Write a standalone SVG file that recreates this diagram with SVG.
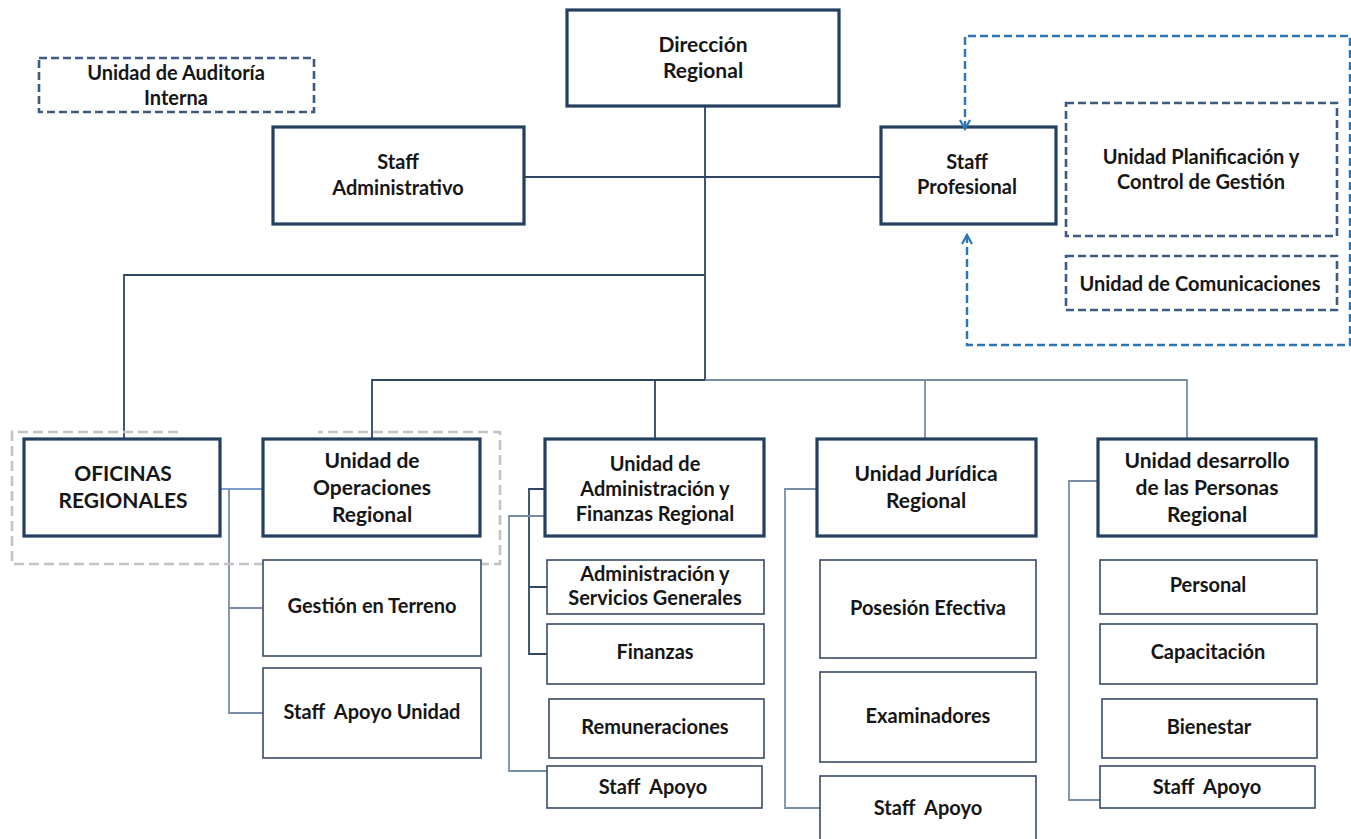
<svg xmlns="http://www.w3.org/2000/svg" width="1351" height="839" viewBox="0 0 1351 839">
<defs>
<style>
text{font-family:Lato,"Liberation Sans",sans-serif;font-weight:bold;fill:#161616;text-anchor:middle;font-size:20px}
.big{font-size:21px}
.thick{fill:#fff;stroke:#243F60;stroke-width:3.2}
.thin{fill:#fff;stroke:#3A4B66;stroke-width:1.6}
.dash{fill:#fff;stroke:#3D5B82;stroke-width:2.6;stroke-dasharray:8 4}
.c{fill:none;stroke:#2E4563;stroke-width:1.8}
.cl{fill:none;stroke:#7A8DA8;stroke-width:1.8}
.cb{fill:none;stroke:#4F81BD;stroke-width:1.6}
.blue{fill:none;stroke:#2E75B6;stroke-width:2.4;stroke-dasharray:8 4}
.gray{fill:none;stroke:#C4C4C4;stroke-width:2.6;stroke-dasharray:10 5}
</style>
<marker id="ar" viewBox="0 0 12 12" refX="10" refY="6" markerWidth="12" markerHeight="12" markerUnits="userSpaceOnUse" orient="auto-start-reverse">
<path d="M1,1 L10,6 L1,11" fill="none" stroke="#2E75B6" stroke-width="2.2"/>
</marker>
</defs>
<rect width="1351" height="839" fill="#fff"/>

<g id="connectors">
<path class="c" d="M705,106 V380"/>
<path class="c" d="M524,177 H881"/>
<path class="c" d="M705,275 H124 V438"/>
<path class="c" d="M372,438 V380 H705"/>
<path class="cl" d="M705,380 H1187 V438"/>
<path class="c" d="M655,380 V438"/>
<path class="cl" d="M925,380 V438"/>
<path class="cb" d="M220,489 H263"/>
<path class="cl" d="M229,489 V713 H263 M229,608 H263"/>
<path class="c" d="M545,489 H529 V654 H547 M529,587 H547"/>
<path class="cl" d="M545,516 H509 V771 H547"/>
<path class="cl" d="M817,489 H785 V808 H822"/>
<path class="cl" d="M1098,481 H1069 V800 H1102"/>
</g>

<g id="grupo-oficinas"><path class="gray" d="M178,432 H12 V564 H500 V432 H318"/></g>

<g id="direccion"><rect class="thick" x="567" y="10" width="272" height="96"/><text class="big" x="703" y="52">Dirección</text><text class="big" x="703" y="78">Regional</text></g>
<g id="auditoria"><rect class="dash" x="39" y="58" width="275" height="54" fill="none"/><text x="176" y="80">Unidad de Auditoría</text><text x="176" y="105">Interna</text></g>
<g id="staff-admin"><rect class="thick" x="273" y="127" width="251" height="97"/><text x="398" y="169">Staff</text><text x="398" y="195">Administrativo</text></g>
<g id="staff-prof"><rect class="thick" x="881" y="127" width="175" height="97"/><text x="967" y="169">Staff</text><text x="967" y="194">Profesional</text></g>
<g id="planificacion"><rect class="dash" x="1066" y="103" width="271" height="133"/><text x="1201" y="164">Unidad Planificación y</text><text x="1201" y="189">Control de Gestión</text></g>
<g id="comunicaciones"><rect class="dash" x="1066" y="256" width="271" height="54"/><text x="1200" y="291">Unidad de Comunicaciones</text></g>

<g id="oficinas"><rect class="thick" x="24" y="439" width="196" height="97"/><text class="big" x="123" y="481">OFICINAS</text><text class="big" x="123" y="508">REGIONALES</text></g>
<g id="operaciones"><rect class="thick" x="263" y="439" width="217" height="97"/><text class="big" x="372" y="468">Unidad de</text><text class="big" x="372" y="495">Operaciones</text><text class="big" x="372" y="522">Regional</text></g>
<g id="gestion"><rect class="thin" x="263" y="560" width="218" height="96"/><text x="372" y="613">Gestión en Terreno</text></g>
<g id="staff-apoyo-unidad"><rect class="thin" x="263" y="668" width="218" height="90"/><text x="372" y="719" xml:space="preserve">Staff  Apoyo Unidad</text></g>

<g id="administracion"><rect class="thick" x="545" y="439" width="219" height="97"/><text x="655" y="471">Unidad de</text><text x="655" y="496">Administración y</text><text x="655" y="521">Finanzas Regional</text></g>
<g id="servicios"><rect class="thin" x="547" y="560" width="217" height="54"/><text x="655" y="581">Administración y</text><text x="655" y="605">Servicios Generales</text></g>
<g id="finanzas"><rect class="thin" x="547" y="624" width="217" height="60"/><text x="655" y="659">Finanzas</text></g>
<g id="remuneraciones"><rect class="thin" x="549" y="699" width="215" height="59"/><text x="655" y="734">Remuneraciones</text></g>
<g id="staff-apoyo-adm"><rect class="thin" x="547" y="766" width="215" height="42"/><text x="653" y="794" xml:space="preserve">Staff  Apoyo</text></g>

<g id="juridica"><rect class="thick" x="817" y="439" width="219" height="97"/><text class="big" x="926" y="481">Unidad Jurídica</text><text class="big" x="926" y="508">Regional</text></g>
<g id="posesion"><rect class="thin" x="820" y="560" width="216" height="98"/><text x="928" y="615">Posesión Efectiva</text></g>
<g id="examinadores"><rect class="thin" x="820" y="672" width="216" height="90"/><text x="928" y="723">Examinadores</text></g>
<g id="staff-apoyo-jur"><rect class="thin" x="820" y="776" width="216" height="70"/><text x="928" y="815" xml:space="preserve">Staff  Apoyo</text></g>

<g id="desarrollo"><rect class="thick" x="1098" y="439" width="218" height="97"/><text class="big" x="1207" y="468">Unidad desarrollo</text><text class="big" x="1207" y="495">de las Personas</text><text class="big" x="1207" y="522">Regional</text></g>
<g id="personal"><rect class="thin" x="1100" y="560" width="217" height="54"/><text x="1208" y="592">Personal</text></g>
<g id="capacitacion"><rect class="thin" x="1100" y="624" width="217" height="60"/><text x="1208" y="659">Capacitación</text></g>
<g id="bienestar"><rect class="thin" x="1102" y="699" width="215" height="59"/><text x="1209" y="734">Bienestar</text></g>
<g id="staff-apoyo-des"><rect class="thin" x="1100" y="766" width="215" height="42"/><text x="1207" y="794" xml:space="preserve">Staff  Apoyo</text></g>

<g id="staff-links"><path class="blue" d="M965,129 V36 H1350 V345 H967 V235" marker-start="url(#ar)" marker-end="url(#ar)"/></g>
</svg>
